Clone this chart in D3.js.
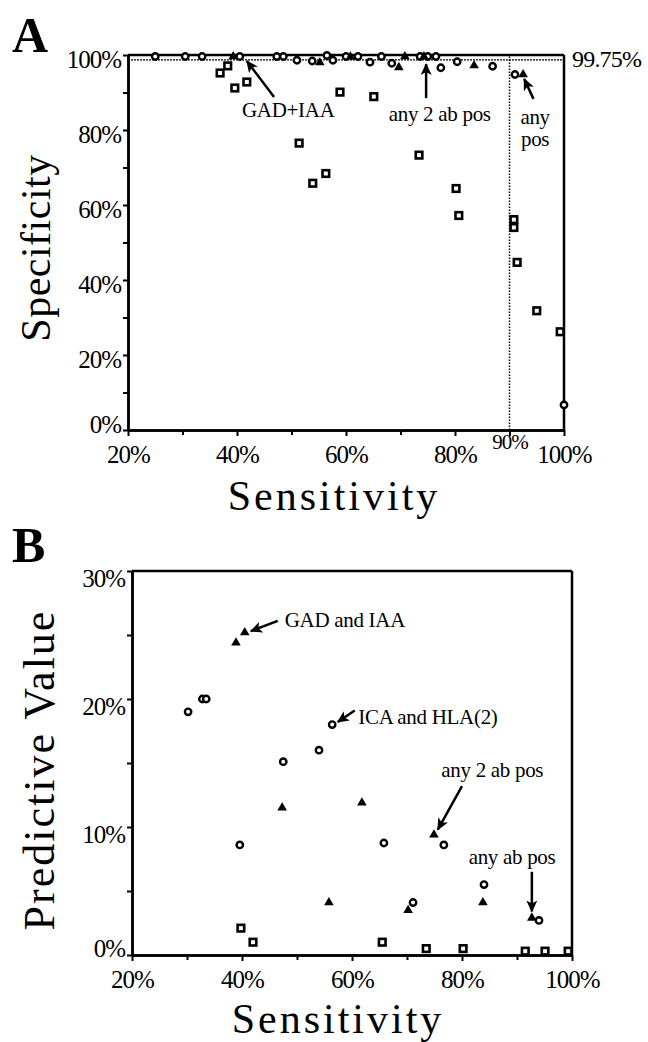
<!DOCTYPE html>
<html>
<head>
<meta charset="utf-8">
<script src="https://cdn.jsdelivr.net/npm/d3@7"></script>
<style>
body { margin: 0; background: #fff; }
svg text { font-family: "Liberation Serif", "Times New Roman", serif; fill: #000; }
.tick text { font-size: 25px; letter-spacing: -1px; }
.axis path, .axis line { stroke: #000; }
.axis path { stroke-width: 2.5; }
.axis line { stroke-width: 2; }
</style>
</head>
<body>
<svg id="chart" width="648" height="1042"></svg>
<script>
// panel A: specificity vs sensitivity (percent)
var aSquares = [[36.9,95.2],[38.3,97.1],[39.6,91.2],[41.8,92.8],[51.4,76.5],[53.9,65.8],[56.3,68.4],[58.9,90.1],
    [65.1,88.9],[73.4,73.3],[80.2,64.4],[80.7,57.2],[90.8,56.1],[90.8,54.0],[91.4,44.7],[95.0,31.8],[99.3,26.2]];
var aCircles = [[25,99.6],[30.5,99.6],[33.6,99.6],[40.5,99.6],[47.3,99.6],[48.5,99.6],[51.0,98.6],[53.8,98.4],
    [56.5,99.9],[57.6,98.6],[60,99.6],[62.2,99.6],[64.4,98.1],[66.5,99.6],[68.4,97.8],[73.6,99.6],[75,99.6],
    [76.5,99.6],[77.4,96.6],[80.4,98.2],[86.9,97.0],[91.0,94.8],[100,6.7]];
var aTriangles = [[39.3,99.6],[55.2,98.0],[60.8,99.5],[69.7,96.7],[70.8,99.6],[74.3,99.6],[83.5,97.2],[92.5,94.8]];

// panel B: predictive value vs sensitivity (percent)
var bSquares = [[39.8,2.1],[42,1.0],[65.5,1.0],[73.5,0.5],[80.2,0.5],[91.5,0.3],[95.1,0.3],[99.3,0.3]];
var bCircles = [[30.2,19.0],[32.8,20.0],[33.5,20.0],[39.6,8.6],[47.5,15.1],[54.0,16.0],[56.4,18.0],[65.8,8.75],
    [71.1,4.1],[76.7,8.6],[84,5.5],[94,2.7]];
var bTriangles = [[38.9,24.4],[40.5,25.2],[47.3,11.5],[55.8,4.1],[61.8,11.9],[70.2,3.5],[74.9,9.4],[83.8,4.1],[92.7,2.9]];

var aXTicks = [20,40,60,80,90,100], aXMinor = [30,50,70];
var aYTicks = [0,20,40,60,80,100], aYMinor = [10,30,50,70,90];
var bXTicks = [20,40,60,80,100], bXMinor = [30,50,70,90];
var bYTicks = [0,10,20,30], bYMinor = [5,15,25];

var aNotes = [
    {lines:["GAD+IAA"], x:49.4, y:85.3, from:[46.8,88.8], to:[41.8,98.4]},
    {lines:["any 2 ab pos"], x:77.2, y:84.3, from:[74.7,88.5], to:[74.7,97.6]},
    {lines:["any","pos"], x:94.7, y:83.5, from:[94.4,88.3], to:[92.7,93.6]}
];
var bNotes = [
    {lines:["GAD and IAA"], x:58.7, y:26.2, from:[46.5,26.1], to:[41.6,25.3]},
    {lines:["ICA and HLA(2)"], x:73.8, y:18.6, from:[60.5,19.1], to:[57.4,18.2]},
    {lines:["any 2 ab pos"], x:85.5, y:14.5, from:[80.0,13.2], to:[75.6,9.8]},
    {lines:["any ab pos"], x:89.1, y:7.7, from:[92.7,6.5], to:[92.7,3.4]}
];

var pct = function(d){ return d + "%"; };
var svg = d3.select("#chart");

svg.append("defs").append("marker")
    .attr("id", "arrow")
    .attr("viewBox", "0 0 12 11")
    .attr("refX", 11).attr("refY", 5.5)
    .attr("markerWidth", 12).attr("markerHeight", 11)
    .attr("markerUnits", "userSpaceOnUse")
    .attr("orient", "auto")
  .append("path")
    .attr("d", "M0,0 L12,5.5 L0,11 L3,5.5 Z")
    .attr("fill", "#000");

function drawMarks(g, x, y, squares, circles, triangles){
    g.selectAll(".sq").data(squares).enter().append("rect")
        .attr("class", "sq")
        .attr("x", function(d){ return x(d[0]) - 3.3; })
        .attr("y", function(d){ return y(d[1]) - 3.3; })
        .attr("width", 6.6).attr("height", 6.6)
        .attr("fill", "#fff").attr("stroke", "#000").attr("stroke-width", 2.6);
    g.selectAll(".ci").data(circles).enter().append("circle")
        .attr("class", "ci")
        .attr("cx", function(d){ return x(d[0]); })
        .attr("cy", function(d){ return y(d[1]); })
        .attr("r", 3.2)
        .attr("fill", "#fff").attr("stroke", "#000").attr("stroke-width", 2.4);
    var tri = d3.symbol().type(d3.symbolTriangle).size(40);
    g.selectAll(".tr").data(triangles).enter().append("path")
        .attr("class", "tr")
        .attr("d", tri)
        .attr("transform", function(d){ return "translate(" + x(d[0]) + "," + y(d[1]) + ")"; })
        .attr("fill", "#000");
}

function drawNotes(g, x, y, notes){
    notes.forEach(function(n){
        g.append("line")
            .attr("x1", x(n.from[0])).attr("y1", y(n.from[1]))
            .attr("x2", x(n.to[0])).attr("y2", y(n.to[1]))
            .attr("stroke", "#000").attr("stroke-width", 2.5)
            .attr("marker-end", "url(#arrow)");
        n.lines.forEach(function(t, i){
            g.append("text")
                .attr("x", x(n.x)).attr("y", y(n.y))
                .attr("dy", (0.35 + i * 1.05) + "em")
                .attr("text-anchor", "middle")
                .style("font-size", "21px")
                .style("letter-spacing", "-0.3px")
                .text(t);
        });
    });
}

// ---------- panel A ----------
var xA = d3.scaleLinear().domain([20,100]).range([128,564]);
var yA = d3.scaleLinear().domain([0,100]).range([430,55]);
var gA = svg.append("g");

gA.append("text").attr("x", 12).attr("y", 52)
    .style("font-size", "50px").style("font-weight", "bold").text("A");

var axA = gA.append("g").attr("class", "axis")
    .attr("transform", "translate(0," + yA(0) + ")")
    .call(d3.axisBottom(xA).tickValues(aXTicks).tickFormat(pct).tickSize(6).tickSizeOuter(0).tickPadding(9));
axA.selectAll(".tick").filter(function(d){ return d === 90; }).select("text")
    .attr("y", 4).style("font-size", "21px");
gA.append("g").attr("class", "axis")
    .attr("transform", "translate(0," + yA(0) + ")")
    .call(d3.axisBottom(xA).tickValues(aXMinor).tickFormat("").tickSize(5).tickSizeOuter(0));

gA.append("g").attr("class", "axis")
    .attr("transform", "translate(" + xA(20) + ",0)")
    .call(d3.axisLeft(yA).tickValues(aYTicks).tickFormat(pct).tickSize(5).tickSizeOuter(0).tickPadding(2))
  .selectAll("text").attr("dy", function(d){ return d === 0 ? "0.1em" : "0.5em"; });
gA.append("g").attr("class", "axis")
    .attr("transform", "translate(" + xA(20) + ",0)")
    .call(d3.axisLeft(yA).tickValues(aYMinor).tickFormat("").tickSize(5).tickSizeOuter(0));

// frame: top, right, 99.75% reference and 90% sensitivity line
gA.append("line").attr("x1", xA(20)).attr("x2", xA(100)).attr("y1", yA(100)).attr("y2", yA(100))
    .attr("stroke", "#000").attr("stroke-width", 2.5);
gA.append("line").attr("x1", xA(20)).attr("x2", xA(100)).attr("y1", yA(99.75) + 4).attr("y2", yA(99.75) + 4)
    .attr("stroke", "#000").attr("stroke-width", 1.3).attr("stroke-dasharray", "2,1");
gA.append("line").attr("x1", xA(100)).attr("x2", xA(100)).attr("y1", yA(0)).attr("y2", yA(100))
    .attr("stroke", "#000").attr("stroke-width", 2.5);
gA.append("line").attr("x1", xA(90)).attr("x2", xA(90)).attr("y1", yA(0)).attr("y2", yA(100))
    .attr("stroke", "#000").attr("stroke-width", 1.5).attr("stroke-dasharray", "1.5,1.5");
gA.append("text").attr("x", xA(100) + 8).attr("y", yA(99.75)).attr("dy", "0.45em")
    .style("font-size", "24px").style("letter-spacing", "-0.8px").text("99.75%");

drawMarks(gA, xA, yA, aSquares, aCircles, aTriangles);
drawNotes(gA, xA, yA, aNotes);

gA.append("text").attr("x", (xA(20) + xA(100)) / 2 - 12).attr("y", 510)
    .attr("text-anchor", "middle").style("font-size", "42px").style("letter-spacing", "3px")
    .text("Sensitivity");
gA.append("text").attr("transform", "translate(50," + 248 + ") rotate(-90)")
    .attr("text-anchor", "middle").style("font-size", "42px").style("letter-spacing", "0.5px")
    .text("Specificity");

// ---------- panel B ----------
var xB = d3.scaleLinear().domain([20,100]).range([132,572]);
var yB = d3.scaleLinear().domain([0,30]).range([955,571]);
var gB = svg.append("g");

gB.append("text").attr("x", 12).attr("y", 562)
    .style("font-size", "50px").style("font-weight", "bold").text("B");

gB.append("g").attr("class", "axis")
    .attr("transform", "translate(0," + yB(0) + ")")
    .call(d3.axisBottom(xB).tickValues(bXTicks).tickFormat(pct).tickSize(6).tickSizeOuter(0).tickPadding(9));
gB.append("g").attr("class", "axis")
    .attr("transform", "translate(0," + yB(0) + ")")
    .call(d3.axisBottom(xB).tickValues(bXMinor).tickFormat("").tickSize(5).tickSizeOuter(0));
gB.append("g").attr("class", "axis")
    .attr("transform", "translate(" + xB(20) + ",0)")
    .call(d3.axisLeft(yB).tickValues(bYTicks).tickFormat(pct).tickSize(5).tickSizeOuter(0).tickPadding(2))
  .selectAll("text").attr("dy", function(d){ return d === 0 ? "0.05em" : "0.6em"; });
gB.append("g").attr("class", "axis")
    .attr("transform", "translate(" + xB(20) + ",0)")
    .call(d3.axisLeft(yB).tickValues(bYMinor).tickFormat("").tickSize(5).tickSizeOuter(0));

gB.append("line").attr("x1", xB(20)).attr("x2", xB(100)).attr("y1", yB(30)).attr("y2", yB(30))
    .attr("stroke", "#000").attr("stroke-width", 2.5);
gB.append("line").attr("x1", xB(100)).attr("x2", xB(100)).attr("y1", yB(0)).attr("y2", yB(30))
    .attr("stroke", "#000").attr("stroke-width", 2.5);

drawMarks(gB, xB, yB, bSquares, bCircles, bTriangles);
drawNotes(gB, xB, yB, bNotes);

gB.append("text").attr("x", (xB(20) + xB(100)) / 2 - 14).attr("y", 1033)
    .attr("text-anchor", "middle").style("font-size", "42px").style("letter-spacing", "3px")
    .text("Sensitivity");
gB.append("text").attr("transform", "translate(54," + 770 + ") rotate(-90)")
    .attr("text-anchor", "middle").style("font-size", "44px").style("letter-spacing", "2px")
    .text("Predictive Value");
</script>
</body>
</html>
